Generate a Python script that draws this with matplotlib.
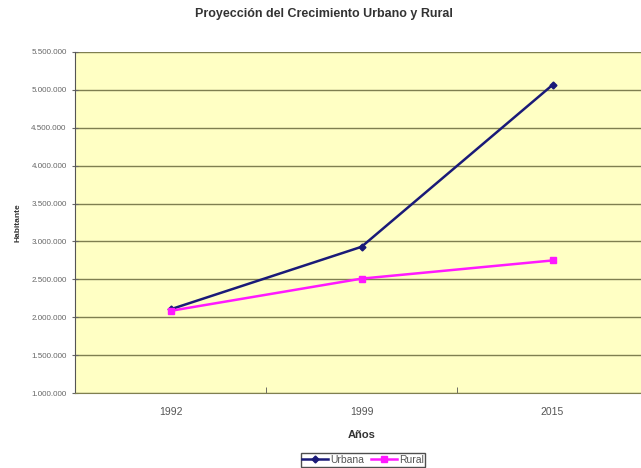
import matplotlib
matplotlib.use("Agg")
import matplotlib.pyplot as plt
from matplotlib.ticker import MultipleLocator, FuncFormatter, FixedLocator

# datos de proyección
anios = ["1992", "1999", "2015"]
urbana = [2105000, 2930000, 5065000]
rural = [2085000, 2510000, 2750000]

plt.rcParams['font.family'] = ['Liberation Sans', 'DejaVu Sans']

fig = plt.figure(figsize=(6.41, 4.68), dpi=100)
ax = fig.add_axes([0.117, 0.160, 0.894, 0.729])
ax.set_facecolor('#ffffc4')

x = range(len(anios))
ax.plot(x, urbana, '-D', color='#1a1a78', lw=1.8, ms=3.5, label='Urbana')
ax.plot(x, rural, '-s', color='#ff19ff', lw=1.8, ms=4.5, label='Rural')

ax.set_xlim(-0.5, 2.5)
ax.set_ylim(1000000, 5500000)
ax.yaxis.set_major_locator(MultipleLocator(500000))
ax.yaxis.set_major_formatter(FuncFormatter(lambda v, p: f"{int(v):,}".replace(",", ".")))
ax.grid(axis='y', color='#7f7f50', lw=1.0)
ax.set_axisbelow(True)

# etiquetas en el centro de cada categoría, marcas en los bordes
ax.set_xticks(list(x))
ax.set_xticklabels(anios)
ax.tick_params(axis='x', length=0, labelsize=7.5, colors='#555555', pad=10)
ax.xaxis.set_minor_locator(FixedLocator([0.5, 1.5]))
ax.tick_params(axis='x', which='minor', length=4, direction='in', color='#555555')
ax.tick_params(axis='y', length=4, direction='inout', labelsize=5.8, colors='#666666', pad=4)

for s in ['top', 'right']:
    ax.spines[s].set_visible(False)
ax.spines['left'].set_color('#555555')
ax.spines['bottom'].set_color('#7f7f50')

ax.set_title('Proyección del Crecimiento Urbano y Rural', fontsize=9,
             fontweight='bold', color='#333333', pad=25, x=0.435)
ax.set_xlabel('Años', fontsize=8, fontweight='bold', color='#333333', labelpad=9)
ax.set_ylabel('Habitante', fontsize=6, fontweight='bold', color='#333333', labelpad=7)

fig.legend(loc='center', bbox_to_anchor=(363 / 641, 1 - 460 / 468), ncol=2,
           fontsize=7.5, frameon=True, fancybox=False, edgecolor='#222222',
           handlelength=2.5, handletextpad=0.2, columnspacing=0.6,
           borderpad=0.15, labelcolor='#555555')

fig.savefig('out.png', dpi=100)
